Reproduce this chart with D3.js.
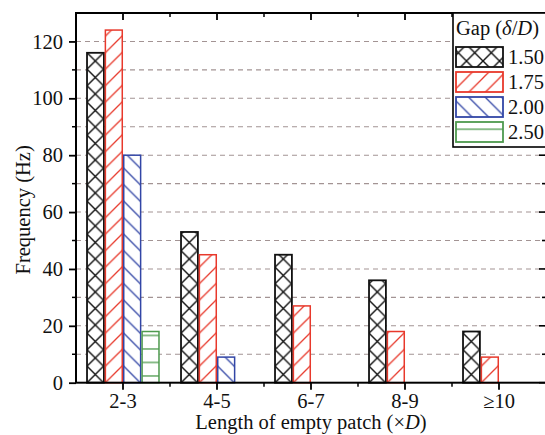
<!DOCTYPE html>
<html lang="en">
<head>
  <meta charset="UTF-8">
  <title>Frequency vs length of empty patch</title>
  <script src="https://d3js.org/d3.v7.min.js"></script>
  <style>
    body { margin: 0; overflow: hidden; background: #fff; }
    text { font-family: "Liberation Serif", "Times New Roman", serif; fill: #111; }
  </style>
</head>
<body>
  <script>
    const width = 545;
    const height = 435;
    const fontSize = "20.5px";

    // data
    const categories = ["2-3", "4-5", "6-7", "8-9", "\u226510"];
    const gaps = ["1.50", "1.75", "2.00", "2.50"];
    const gap150 = [116, 53, 45, 36, 18];
    const gap175 = [124, 45, 27, 18, 9];
    const gap200 = [80, 9, null, null, null];
    const gap250 = [18, null, null, null, null];
    const yTicks = [0, 20, 40, 60, 80, 100, 120];

    const seriesValues = [gap150, gap175, gap200, gap250];
    const colors = ["#111111", "#e8392c", "#3246a6", "#4e9a4e"];
    const hatch = ["cross", "slash", "back", "horiz"];

    const pLeft = 76, pRight = 546, pTop = 13, pBottom = 382.7;

    const svg = d3.select("body").append("svg")
      .attr("width", width)
      .attr("height", height);

    const defs = svg.append("defs");

    const x = d3.scaleBand().domain(categories).range([pLeft, pRight]);
    const xs = d3.scaleBand().domain(gaps).range([0, x.bandwidth()])
      .paddingInner(0.08).paddingOuter(0.6);
    const y = d3.scaleLinear().domain([0, 130]).range([pBottom, pTop]);

    // dashed grid every 10
    const gridVals = d3.range(10, 130, 10);
    svg.append("g").selectAll("line")
      .data(gridVals)
      .join("line")
      .attr("x1", pLeft).attr("x2", pRight)
      .attr("y1", d => y(d)).attr("y2", d => y(d))
      .attr("stroke", "#a39494")
      .attr("stroke-width", 1.1)
      .attr("stroke-dasharray", "5,4");

    // hatch patterns, one per bar so they line up with the bar edges
    function makePattern(id, kind, color, ox, oy) {
      const s = kind === "horiz" ? 13.5 : 16.5;
      const p = defs.append("pattern")
        .attr("id", id)
        .attr("patternUnits", "userSpaceOnUse")
        .attr("x", ox).attr("y", oy)
        .attr("width", kind === "horiz" ? 10 : s)
        .attr("height", s);
      p.append("rect").attr("width", s).attr("height", s).attr("fill", "#fff");
      let d;
      if (kind === "cross") d = `M0,0L${s},${s}M${s},0L0,${s}`;
      else if (kind === "slash") d = `M0,${s}L${s},0M-4,4L4,-4M${s - 4},${s + 4}L${s + 4},${s - 4}`;
      else if (kind === "back") d = `M0,0L${s},${s}M-4,${s - 4}L4,${s + 4}M${s - 4},-4L${s + 4},4`;
      else d = `M0,${s / 2}L10,${s / 2}`;
      p.append("path").attr("d", d)
        .attr("stroke", color)
        .attr("stroke-width", kind === "cross" ? 1.4 : 1.3)
        .attr("fill", "none");
    }

    const bars = [];
    seriesValues.forEach((vals, si) => {
      vals.forEach((v, ci) => {
        if (v == null) return;
        bars.push({ si, cat: categories[ci], v });
      });
    });

    bars.forEach((b, i) => {
      const bx = x(b.cat) + xs(gaps[b.si]);
      makePattern("pat" + i, hatch[b.si], colors[b.si], bx, y(0));
      b.x = bx;
      b.id = "pat" + i;
    });

    svg.append("g").selectAll("rect")
      .data(bars)
      .join("rect")
      .attr("x", d => d.x)
      .attr("y", d => y(d.v))
      .attr("width", xs.bandwidth())
      .attr("height", d => y(0) - y(d.v))
      .attr("fill", d => `url(#${d.id})`)
      .attr("stroke", d => colors[d.si])
      .attr("stroke-width", d => d.si === 0 ? 1.8 : 1.5);

    // frame
    svg.append("rect")
      .attr("x", pLeft).attr("y", pTop)
      .attr("width", pRight - pLeft).attr("height", pBottom - pTop)
      .attr("fill", "none")
      .attr("stroke", "#000")
      .attr("stroke-width", 2);

    // left / right ticks
    const minorY = d3.range(10, 130, 20);
    const leftAxis = d3.axisLeft(y).tickValues(yTicks).tickSize(7).tickFormat(d3.format("d"));
    const gl = svg.append("g").attr("transform", `translate(${pLeft},0)`).call(leftAxis);
    gl.select(".domain").remove();
    gl.selectAll(".tick line").attr("stroke-width", 1.8);
    gl.selectAll(".tick text")
      .attr("x", -13)
      .style("font-size", fontSize)
      .style("font-family", "Liberation Serif");
    gl.selectAll(".minor").data(minorY).join("line")
      .attr("class", "minor")
      .attr("x1", -4).attr("x2", 0)
      .attr("y1", d => y(d)).attr("y2", d => y(d))
      .attr("stroke", "#000").attr("stroke-width", 1.5);

    const rightTicks = yTicks.concat(minorY);
    svg.append("g").selectAll("line").data(rightTicks).join("line")
      .attr("x1", d => pRight - (yTicks.includes(d) ? 7 : 4)).attr("x2", pRight)
      .attr("y1", d => y(d)).attr("y2", d => y(d))
      .attr("stroke", "#000").attr("stroke-width", 1.6);

    // bottom / top ticks
    const bottomAxis = d3.axisBottom(x).tickSize(7).tickPadding(4);
    const gb = svg.append("g").attr("transform", `translate(0,${pBottom})`).call(bottomAxis);
    gb.select(".domain").remove();
    gb.selectAll(".tick line").attr("stroke-width", 1.8);
    gb.selectAll(".tick text")
      .style("font-size", fontSize)
      .style("font-family", "Liberation Serif");

    const bounds = categories.slice(1).map(c => x(c));
    svg.append("g").selectAll("line").data(bounds).join("line")
      .attr("x1", d => d).attr("x2", d => d)
      .attr("y1", pBottom).attr("y2", pBottom + 4)
      .attr("stroke", "#000").attr("stroke-width", 1.5);

    svg.append("g").selectAll("line").data(categories).join("line")
      .attr("x1", d => x(d) + x.bandwidth() / 2).attr("x2", d => x(d) + x.bandwidth() / 2)
      .attr("y1", pTop).attr("y2", pTop + 7)
      .attr("stroke", "#000").attr("stroke-width", 1.8);
    svg.append("g").selectAll("line").data(bounds).join("line")
      .attr("x1", d => d).attr("x2", d => d)
      .attr("y1", pTop).attr("y2", pTop + 4)
      .attr("stroke", "#000").attr("stroke-width", 1.5);

    // axis titles
    const xt = svg.append("text")
      .attr("x", (pLeft + pRight) / 2)
      .attr("y", 429)
      .attr("text-anchor", "middle")
      .style("font-size", fontSize);
    xt.append("tspan").text("Length of empty patch (\u00d7");
    xt.append("tspan").attr("font-style", "italic").text("D");
    xt.append("tspan").text(")");

    svg.append("text")
      .attr("transform", `translate(30,${(pTop + pBottom) / 2 + 12}) rotate(-90)`)
      .attr("text-anchor", "middle")
      .style("font-size", fontSize)
      .text("Frequency (Hz)");

    // legend
    const lg = svg.append("g").attr("transform", "translate(453,13)");
    lg.append("rect")
      .attr("width", 120).attr("height", 134)
      .attr("fill", "#fff")
      .attr("stroke", "#000").attr("stroke-width", 1.6);
    const lt = lg.append("text").attr("x", 3).attr("y", 22).style("font-size", fontSize);
    lt.append("tspan").text("Gap (");
    lt.append("tspan").attr("font-style", "italic").text("\u03b4");
    lt.append("tspan").text("/");
    lt.append("tspan").attr("font-style", "italic").text("D");
    lt.append("tspan").text(")");

    const rows = lg.selectAll(".row").data(gaps).join("g")
      .attr("class", "row")
      .attr("transform", (d, i) => `translate(3,${34 + i * 25})`);
    rows.each(function (d, i) {
      makePattern("leg" + i, hatch[i], colors[i], 456, 47 + i * 25);
    });
    rows.append("rect")
      .attr("width", 47).attr("height", 20)
      .attr("fill", (d, i) => `url(#leg${i})`)
      .attr("stroke", (d, i) => colors[i])
      .attr("stroke-width", 1.8);
    rows.append("text")
      .attr("x", 52).attr("y", 17)
      .style("font-size", fontSize)
      .text(d => d);
  </script>
</body>
</html>
